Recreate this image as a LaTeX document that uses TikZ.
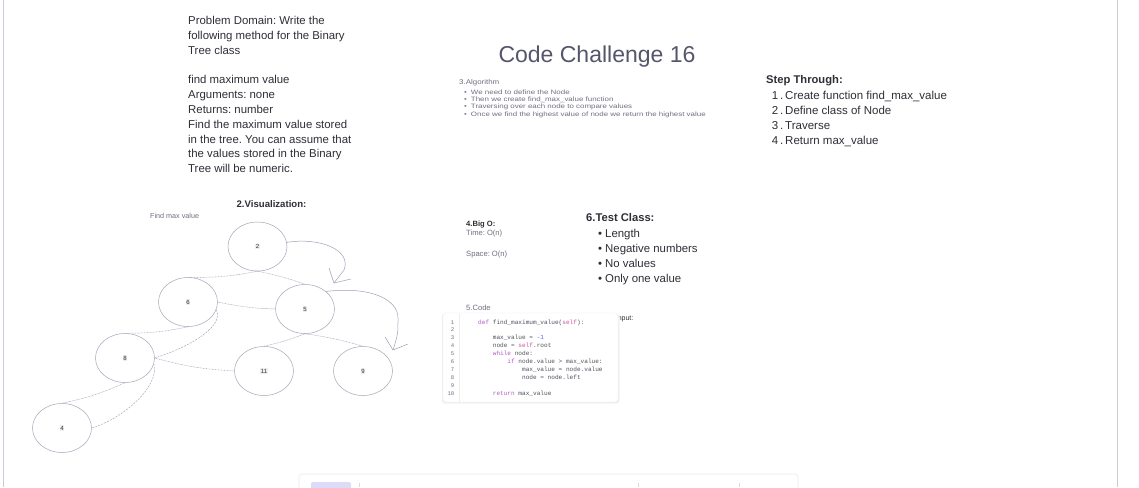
\documentclass[tikz,border=0pt]{standalone}
\usepackage{fontspec}
\setmainfont{Liberation Sans}
\setmonofont{Liberation Mono}
\newfontfamily\widesans[FakeStretch=1.15]{Liberation Sans}
\newfontfamily\widersans[FakeStretch=1.26]{Liberation Sans}
\usetikzlibrary{shapes.geometric}
\frenchspacing
\definecolor{frame}{HTML}{C9CCD4}
\definecolor{txt}{HTML}{2E2F36}
\definecolor{title}{HTML}{55566A}
\definecolor{soft}{HTML}{6E7080}
\definecolor{edge}{HTML}{9EA2B4}
\definecolor{ellc}{HTML}{A3A6B8}
\definecolor{lblbg}{HTML}{EEEEF0}
\definecolor{kw}{HTML}{B25CC4}
\definecolor{slf}{HTML}{D2509E}
\definecolor{num}{HTML}{4A6AF0}
\definecolor{code}{HTML}{50525E}
\definecolor{lav}{HTML}{DCDCF8}
\newcommand{\fs}[2]{\fontsize{#1}{#2}\selectfont}
\newcommand{\kwd}[1]{\textcolor{kw}{#1}}
\newcommand{\slfw}[1]{\textcolor{slf}{#1}}
\newcommand{\lbl}[1]{{\setlength{\fboxsep}{0.6pt}\colorbox{lblbg}{#1}}}
\newcommand{\stepn}[1]{\makebox[7pt][r]{#1}\,.\,}
\begin{document}
\begin{tikzpicture}[x=1pt,y=-1pt,
  txtnode/.style={anchor=north west,inner sep=0pt,align=left,text=txt},
  ell/.style={ellipse,draw=ellc,line width=0.5pt,minimum width=59pt,minimum height=49pt,inner sep=0pt,font=\fs{6}{7},text=txt},
  treeedge/.style={draw=edge,line width=0.45pt,dash pattern=on 0.8pt off 0.7pt},
  travel/.style={draw=edge,line width=0.45pt,dash pattern=on 2pt off 1.2pt},
  pointer/.style={draw=edge,line width=0.5pt,line cap=round,line join=round},
  codeline/.style={anchor=base west,inner sep=0pt,font=\ttfamily\fs{6.1}{7},text=code},
  lineno/.style={anchor=base east,inner sep=0pt,font=\ttfamily\fs{5.6}{7},text=soft}]
\useasboundingbox (0,0) rectangle (1139,487);
\fill[white] (0,0) rectangle (1139,487);
% frame lines
\draw[frame,line width=1pt] (3.3,0) -- (3.3,487);
\draw[frame,line width=1pt] (1117.8,0) -- (1117.8,487);

% problem domain
\node[txtnode,font=\fs{11.4}{14.8}] (prob) at (188,16.3) {Problem Domain: Write the\\following method for the Binary\\Tree class\\[14.8pt]find maximum value\\Arguments: none\\Returns: number\\Find the maximum value stored\\in the tree. You can assume that\\the values stored in the Binary\\Tree will be numeric.};

% title
\node[text=title,font=\fs{23}{26},inner sep=0pt] (ttl) at (597,57) {Code Challenge 16};

% algorithm
\node[txtnode,font=\widesans\fs{6.9}{8},text=soft] (alg) at (459,79.5) {3.Algorithm};
\node[txtnode,font=\widersans\fs{6.3}{7.35},text=soft] (algitems) at (464,89.3) {\textbullet\hspace{4pt}We need to define the Node\\\textbullet\hspace{4pt}Then we create find\_max\_value function\\\textbullet\hspace{4pt}Traversing over each node to compare values\\\textbullet\hspace{4pt}Once we find the highest value of node we return the highest value};

% step through
\node[txtnode,font=\bfseries\fs{11.2}{15}] (step) at (766,75) {Step Through:};
\node[txtnode,font=\fs{11.5}{15}] (steps) at (771,90.5) {\stepn{1}Create function find\_max\_value\\\stepn{2}Define class of Node\\\stepn{3}Traverse\\\stepn{4}Return max\_value};

% visualization
\node[font=\bfseries\fs{9.6}{10},text=txt,inner sep=0pt] (vis) at (271.5,204) {2.Visualization:};
\node[txtnode,font=\fs{7.2}{8},text=soft] (fmv) at (150,213.5) {Find max value};

% tree nodes
\node[ell] (n2) at (257.5,246.5) {\lbl{2}};
\node[ell] (n6) at (188,302) {\lbl{6}};
\node[ell] (n5) at (305,309) {\lbl{5}};
\node[ell] (n11) at (264,371) {\lbl{11}};
\node[ell] (n9) at (363,371) {\lbl{9}};
\node[ell] (n8) at (125,358) {\lbl{8}};
\node[ell] (n4) at (62,428) {\lbl{4}};

% tree edges
\draw[treeedge] (n2.south) to[bend left=6] (n6.north);
\draw[treeedge] (n2.south) to[bend left=4] (n5.north);
\draw[treeedge] (n6.east) to[bend right=5] (n5.west);
\draw[treeedge] (n5.south) to[bend left=4] (n11.north);
\draw[treeedge] (n5.south) to[bend left=4] (n9.north);
\draw[treeedge] (n6.south) to[bend left=6] (n8.north);
\draw[treeedge] (n8.east) to[bend right=6] (n11.west);
\draw[treeedge] (n8.south) to[bend left=6] (n4.north);
% traversal dashes
\draw[travel] (n6.-15) .. controls (224,325) and (195,345) .. (n8.east);
\draw[travel] (n8.-12) .. controls (160,385) and (125,418) .. (n4.east);

% pointer arrows
\coordinate (tipA) at (334,283);
\coordinate (tipB) at (393,350);
\draw[pointer] (n2.8) .. controls (320,237) and (352,250) .. (344,270) -- (tipA);
\draw[pointer] (329,268) -- (tipA) -- (351,279);
\draw[pointer] (n5.40) .. controls (372,286) and (398,300) .. (398,318) .. controls (398,334) .. (tipB);
\draw[pointer] (385,337) -- (tipB) -- (408,344);

% big O
\node[txtnode,font=\bfseries\fs{7.6}{8}] (bigo) at (466,220.5) {4.Big O:};
\node[txtnode,font=\fs{7.6}{8},text=soft] (time) at (466,229.5) {Time: O(n)};
\node[txtnode,font=\fs{7.6}{8},text=soft] (space) at (466,250.5) {Space: O(n)};

% test class
\node[txtnode,font=\bfseries\fs{11.2}{15}] (test) at (586,213.5) {6.Test Class:};
\node[txtnode,font=\fs{11.4}{15}] (tests) at (598,229.5) {\textbullet\hspace{3pt}Length\\\textbullet\hspace{3pt}Negative numbers\\\textbullet\hspace{3pt}No values\\\textbullet\hspace{3pt}Only one value};

% code
\node[txtnode,font=\fs{7.6}{8},text=soft] (codettl) at (466,305) {5.Code};
\node[txtnode,font=\fs{7}{8}] (inp) at (616,315) {input:};
\fill[black!6,rounded corners=3pt] (442,313.5) rectangle (619.5,403.5);
\fill[white,rounded corners=3pt,draw=black!8,line width=0.3pt] (443,313) rectangle (618,402);
\draw[black!7,line width=0.4pt] (459,313.5) -- (459,401.5);
\foreach \i in {1,...,10} {\node[lineno] (ln\i) at (454.5,{324+7.9*(\i-1)}) {\i};}
\node[codeline] (c1) at (478,324) {\kwd{def} find\_maximum\_value(\slfw{self}):};
\node[codeline] (c3) at (478,339.8) {\hspace*{14.64pt}max\_value = \textcolor{num}{-1}};
\node[codeline] (c4) at (478,347.7) {\hspace*{14.64pt}node = \slfw{self}.root};
\node[codeline] (c5) at (478,355.6) {\hspace*{14.64pt}\kwd{while} node:};
\node[codeline] (c6) at (478,363.5) {\hspace*{29.28pt}\kwd{if} node.value > max\_value:};
\node[codeline] (c7) at (478,371.4) {\hspace*{43.92pt}max\_value = node.value};
\node[codeline] (c8) at (478,379.3) {\hspace*{43.92pt}node = node.left};
\node[codeline] (c10) at (478,395.1) {\hspace*{14.64pt}\kwd{return} max\_value};

% bottom toolbar
\fill[black!3,rounded corners=4pt] (298,473) rectangle (799,495);
\fill[white,rounded corners=3pt] (300,475) rectangle (797,495);
\fill[lav,rounded corners=1.5pt] (311,482) rectangle (351,492);
\draw[black!15,line width=0.4pt] (359,483) -- (359,487);
\draw[black!15,line width=0.4pt] (638,483) -- (638,487);
\draw[black!15,line width=0.4pt] (739,483) -- (739,487);
\end{tikzpicture}
\end{document}
